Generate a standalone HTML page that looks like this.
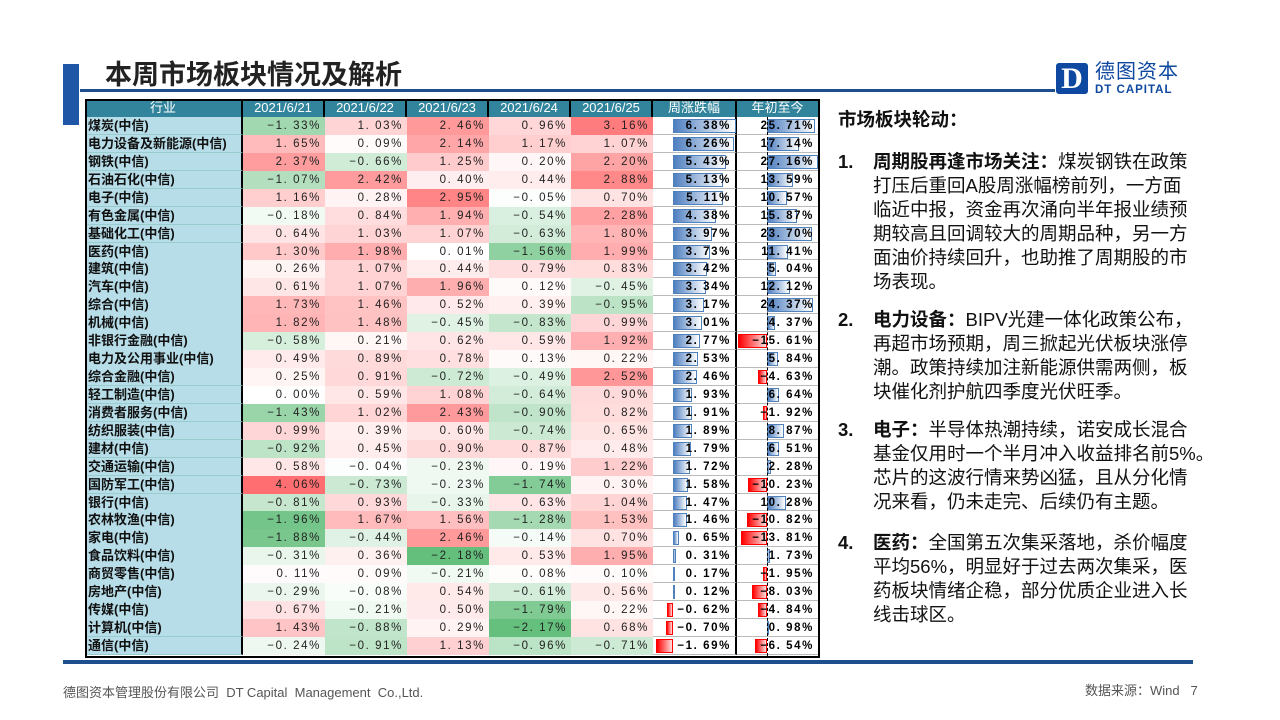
<!DOCTYPE html>
<html><head><meta charset="utf-8"><style>
body{margin:0;width:1280px;height:720px;position:relative;background:#fff;font-family:"Liberation Sans","Noto Sans CJK SC",sans-serif;overflow:hidden}
.a{position:absolute}
.cell{position:absolute;box-sizing:border-box;font-size:12px;line-height:18px;white-space:nowrap}
.num{text-align:right;padding-right:4px;letter-spacing:1.6px;color:#222;font-family:"Liberation Sans","Noto Sans CJK SC",sans-serif;font-size:11.5px}
.hd{background:#31849b;color:#fff;text-align:center;font-size:13px;border-right:2px solid #000}
.nm{background:#b7dde8;font-weight:bold;font-size:13px;padding-left:3px;color:#111;border-bottom:1px solid #9cc}
.it{position:absolute;left:838px;font-size:18.5px;line-height:24px;color:#111}
.it b.n{position:absolute;left:0;top:0}
.it div{margin-left:35px}
</style></head><body>
<div class="a" style="left:63px;top:64px;width:16px;height:61px;background:#1f56a6"></div>
<div class="a" style="left:80px;top:89px;width:975px;height:3px;background:#1f4e8c"></div>
<div class="a" style="left:105px;top:58px;font-size:27px;font-weight:bold;color:#222;line-height:34px">本周市场板块情况及解析</div>
<div class="a" style="left:1056px;top:63px;width:32px;height:31px;background:#0e48a0;border-radius:3px;color:#fff;font-weight:bold;font-size:30px;line-height:31px;text-align:center;font-family:'Liberation Serif',serif">D</div>
<div class="a" style="left:1095px;top:60px;font-size:20px;color:#0e48a0;line-height:24px;letter-spacing:1px">德图资本</div>
<div class="a" style="left:1095px;top:84px;font-size:11.5px;font-weight:bold;color:#0e48a0;letter-spacing:1px">DT CAPITAL</div>
<div id="tb" class="a" style="left:85px;top:99px;width:735px;height:559px;border:2px solid #000;box-sizing:border-box;background:#fff"></div>
<div class="a" style="left:63px;top:660px;width:1130px;height:4px;background:#1f4e8c"></div>
<div class="a" style="left:63px;top:682px;font-size:13px;color:#555">德图资本管理股份有限公司&nbsp; DT Capital&nbsp; Management&nbsp; Co.,Ltd.</div>
<div class="a" style="left:1085px;top:680px;font-size:13px;color:#555">数据来源：Wind&nbsp;&nbsp;&nbsp;7</div>

<div class="a" style="left:838px;top:106px;font-size:18.5px;font-weight:bold;color:#111">市场板块轮动：</div>
<div class="it" style="top:150px"><b class="n">1.</b><div><b>周期股再逢市场关注：</b>煤炭钢铁在政策<br>打压后重回A股周涨幅榜前列，一方面<br>临近中报，资金再次涌向半年报业绩预<br>期较高且回调较大的周期品种，另一方<br>面油价持续回升，也助推了周期股的市<br>场表现。</div></div>
<div class="it" style="top:308px"><b class="n">2.</b><div><b>电力设备：</b>BIPV光建一体化政策公布，<br>再超市场预期，周三掀起光伏板块涨停<br>潮。政策持续加注新能源供需两侧，板<br>块催化剂护航四季度光伏旺季。</div></div>
<div class="it" style="top:418px"><b class="n">3.</b><div><b>电子：</b>半导体热潮持续，诺安成长混合<br>基金仅用时一个半月冲入收益排名前5%。<br>芯片的这波行情来势凶猛，且从分化情<br>况来看，仍未走完、后续仍有主题。</div></div>
<div class="it" style="top:531px"><b class="n">4.</b><div><b>医药：</b>全国第五次集采落地，杀价幅度<br>平均56%，明显好于过去两次集采，医<br>药板块情绪企稳，部分优质企业进入长<br>线击球区。</div></div>
<script>
var D=`煤炭 -1.33 1.03 2.46 0.96 3.16 6.38 25.71
电力设备及新能源 1.65 0.09 2.14 1.17 1.07 6.26 17.14
钢铁 2.37 -0.66 1.25 0.20 2.20 5.43 27.16
石油石化 -1.07 2.42 0.40 0.44 2.88 5.13 13.59
电子 1.16 0.28 2.95 -0.05 0.70 5.11 10.57
有色金属 -0.18 0.84 1.94 -0.54 2.28 4.38 15.87
基础化工 0.64 1.03 1.07 -0.63 1.80 3.97 23.70
医药 1.30 1.98 0.01 -1.56 1.99 3.73 11.41
建筑 0.26 1.07 0.44 0.79 0.83 3.42 5.04
汽车 0.61 1.07 1.96 0.12 -0.45 3.34 12.12
综合 1.73 1.46 0.52 0.39 -0.95 3.17 24.37
机械 1.82 1.48 -0.45 -0.83 0.99 3.01 4.37
非银行金融 -0.58 0.21 0.62 0.59 1.92 2.77 -15.61
电力及公用事业 0.49 0.89 0.78 0.13 0.22 2.53 5.84
综合金融 0.25 0.91 -0.72 -0.49 2.52 2.46 -4.63
轻工制造 0.00 0.59 1.08 -0.64 0.90 1.93 6.64
消费者服务 -1.43 1.02 2.43 -0.90 0.82 1.91 -1.92
纺织服装 0.99 0.39 0.60 -0.74 0.65 1.89 8.87
建材 -0.92 0.45 0.90 0.87 0.48 1.79 6.51
交通运输 0.58 -0.04 -0.23 0.19 1.22 1.72 2.28
国防军工 4.06 -0.73 -0.23 -1.74 0.30 1.58 -10.23
银行 -0.81 0.93 -0.33 0.63 1.04 1.47 10.28
农林牧渔 -1.96 1.67 1.56 -1.28 1.53 1.46 -10.82
家电 -1.88 -0.44 2.46 -0.14 0.70 0.65 -13.81
食品饮料 -0.31 0.36 -2.18 0.53 1.95 0.31 1.73
商贸零售 0.11 0.09 -0.21 0.08 0.10 0.17 -1.95
房地产 -0.29 -0.08 0.54 -0.61 0.56 0.12 -8.03
传媒 0.67 -0.21 0.50 -1.79 0.22 -0.62 -4.84
计算机 1.43 -0.88 0.29 -2.17 0.68 -0.70 0.98
通信 -0.24 -0.91 1.13 -0.96 -0.71 -1.69 -6.54`.split('\n').map(l=>l.split(' '));
var X=[85,243,325,407,489,571,653,737,820];
var H=['行业','2021/6/21','2021/6/22','2021/6/23','2021/6/24','2021/6/25','周涨跌幅','年初至今'];
var h='';
function fmt(v){var s=Math.abs(v).toFixed(2).replace('.','. ');return (v<0?'−':'')+s+'%';}
function col(v){var t;if(v>=0){t=Math.min(v/3.5,1);return 'rgb(255,'+Math.round(255-(255-110)*t)+','+Math.round(255-(255-112)*t)+')';}t=Math.min(-v/2.2,1);return 'rgb('+Math.round(255-(255-99)*t)+','+Math.round(255-(255-190)*t)+','+Math.round(255-(255-123)*t)+')';}
for(var i=0;i<8;i++)h+='<div class="cell hd" style="left:'+X[i]+'px;top:99px;width:'+(X[i+1]-X[i])+'px;height:18px"><span style="font-size:13px">'+H[i]+'</span></div>';
var rh=17.93;
D.forEach(function(r,j){var y=117+j*rh;
h+='<div class="cell nm" style="left:85px;top:'+y+'px;width:158px;height:'+(rh+0.5)+'px;border-right:2px solid #000">'+r[0]+'(中信)</div>';
for(var i=1;i<=5;i++){var v=+r[i];h+='<div class="cell num" style="left:'+X[i]+'px;top:'+y+'px;width:82px;height:'+(rh+0.5)+'px;background:'+col(v)+'">'+fmt(v)+'</div>';}
var w=+r[6],ax=673,s=9.8,bx=w>=0?ax:ax+w*s,bw=Math.abs(w)*s;
h+='<div class="a" style="left:653px;top:'+y+'px;width:84px;height:'+rh+'px;border-bottom:1px solid #bbb;border-right:2px solid #000;box-sizing:border-box"></div>';
h+='<div class="a" style="left:'+bx+'px;top:'+(y+2)+'px;width:'+bw+'px;height:14px;box-sizing:border-box;border:1px solid '+(w>=0?'#4f81bd':'#f00')+';background:linear-gradient(90deg,'+(w>=0?'#4f7fc0,#fff':'#f00,#fdd')+')"></div>';
h+='<div class="cell num" style="left:653px;top:'+y+'px;width:82px;font-weight:bold;color:#000">'+fmt(w)+'</div>';
var t=+r[7];ax=767;s=1.88;bx=t>=0?ax:ax+t*s;bw=Math.abs(t)*s;
h+='<div class="a" style="left:737px;top:'+y+'px;width:83px;height:'+rh+'px;border-bottom:1px solid #bbb;box-sizing:border-box"></div>';
h+='<div class="a" style="left:'+bx+'px;top:'+(y+2)+'px;width:'+bw+'px;height:14px;box-sizing:border-box;border:1px solid '+(t>=0?'#4f81bd':'#f00')+';background:linear-gradient(90deg,'+(t>=0?'#4f7fc0,#fff':'#f00,#fdd')+')"></div>';
h+='<div class="cell num" style="left:737px;top:'+y+'px;width:81px;font-weight:bold;color:#000">'+fmt(t)+'</div>';
});
h+='<div class="a" style="left:767px;top:117px;height:539px;border-left:1px dashed #000"></div>';
h+='<div class="a" style="left:85px;top:99px;width:735px;height:559px;border:2px solid #000;box-sizing:border-box"></div>';
document.getElementById('tb').insertAdjacentHTML('afterend',h);
</script>
</body></html>
